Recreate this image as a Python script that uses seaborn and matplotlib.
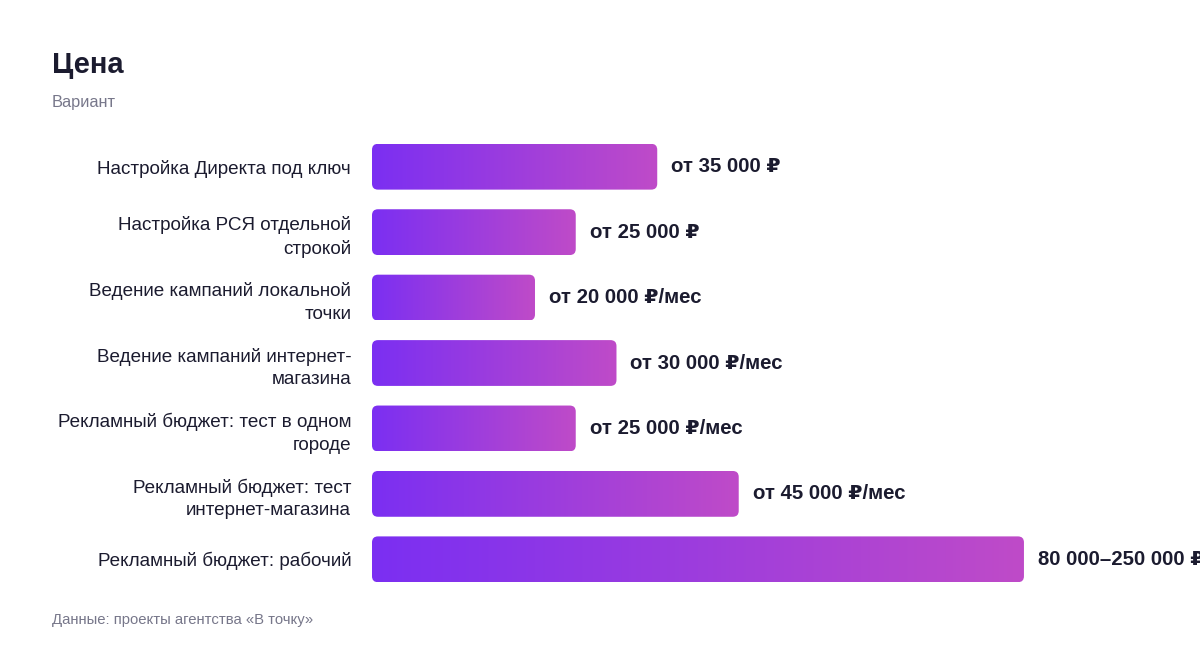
import numpy as np
import pandas as pd
import matplotlib
matplotlib.use('Agg')
import matplotlib.pyplot as plt
import seaborn as sns
from matplotlib.patches import FancyBboxPatch
from matplotlib.colors import LinearSegmentedColormap

# данные
categories = ['Настройка Директа под ключ',
              'Настройка РСЯ отдельной\nстрокой',
              'Ведение кампаний локальной\nточки',
              'Ведение кампаний интернет-\nмагазина',
              'Рекламный бюджет: тест в одном\nгороде',
              'Рекламный бюджет: тест\nинтернет-магазина',
              'Рекламный бюджет: рабочий']
values = [35000, 25000, 20000, 30000, 25000, 45000, 80000]
value_labels = ['от 35 000 ₽', 'от 25 000 ₽', 'от 20 000 ₽/мес', 'от 30 000 ₽/мес',
                'от 25 000 ₽/мес', 'от 45 000 ₽/мес', '80 000–250 000 ₽']

sns.set_theme(style='white')
plt.rcParams['font.family'] = ['Liberation Sans', 'DejaVu Sans']

text_color = '#1b1b2f'
grey = '#77778a'
grad = LinearSegmentedColormap.from_list('grad', ['#7b2ff2', '#bf4bc8'])

fig = plt.figure(figsize=(12, 6.48), dpi=100)
ax = fig.add_axes([0.31, 0.0864, 0.5433, 0.7068])

df = pd.DataFrame({'cat': categories, 'val': values})
sns.barplot(data=df, x='val', y='cat', orient='h', width=0.7, color='#7b2ff2', ax=ax)

ax.set_xlim(0, 80000)
ax.set_ylim(len(categories) - 0.5, -0.5)

# градиент + скругление
px_x = 80000 / (0.5433 * 1200)
px_y = len(categories) / (0.7068 * 648)
r = 6 * px_x
gradient = np.linspace(0, 1, 256).reshape(1, -1)
for bar in ax.patches[:]:
    x0, y0 = bar.get_x(), bar.get_y()
    w, h = bar.get_width(), bar.get_height()
    bar.set_visible(False)
    box = FancyBboxPatch((x0, y0), w, h,
                         boxstyle='round,pad=0,rounding_size=%f' % r,
                         mutation_aspect=px_y / px_x,
                         facecolor='none', edgecolor='none')
    ax.add_patch(box)
    im = ax.imshow(gradient, cmap=grad, aspect='auto',
                   extent=(x0, x0 + w, y0 + h, y0), zorder=2)
    im.set_clip_path(box)

ax.set_xlim(0, 80000)
ax.set_ylim(len(categories) - 0.5, -0.5)

for i, (v, lab) in enumerate(zip(values, value_labels)):
    ax.annotate(lab, (v, i), xytext=(10, 0), textcoords='offset points',
                ha='left', va='center', fontsize=14.7, fontweight='bold',
                color=text_color, annotation_clip=False)

ax.set_xlabel('')
ax.set_ylabel('')
ax.set_xticks([])
ax.tick_params(axis='y', length=0, pad=15, labelsize=13.6, labelcolor=text_color)
for lbl in ax.get_yticklabels():
    lbl.set_horizontalalignment('right')
    lbl.set_multialignment('right')
    lbl.set_linespacing(1.45)
sns.despine(ax=ax, left=True, bottom=True)

fig.text(52 / 1200, 1 - 65 / 648, 'Цена', fontsize=21, fontweight='bold',
         color=text_color, va='center', ha='left')
fig.text(52 / 1200, 1 - 103 / 648, 'Вариант', fontsize=11.8, color=grey,
         va='center', ha='left')
fig.text(52 / 1200, 1 - 620 / 648, 'Данные: проекты агентства «В точку»',
         fontsize=10.7, color=grey, va='center', ha='left')

plt.savefig('out.png', dpi=100)
